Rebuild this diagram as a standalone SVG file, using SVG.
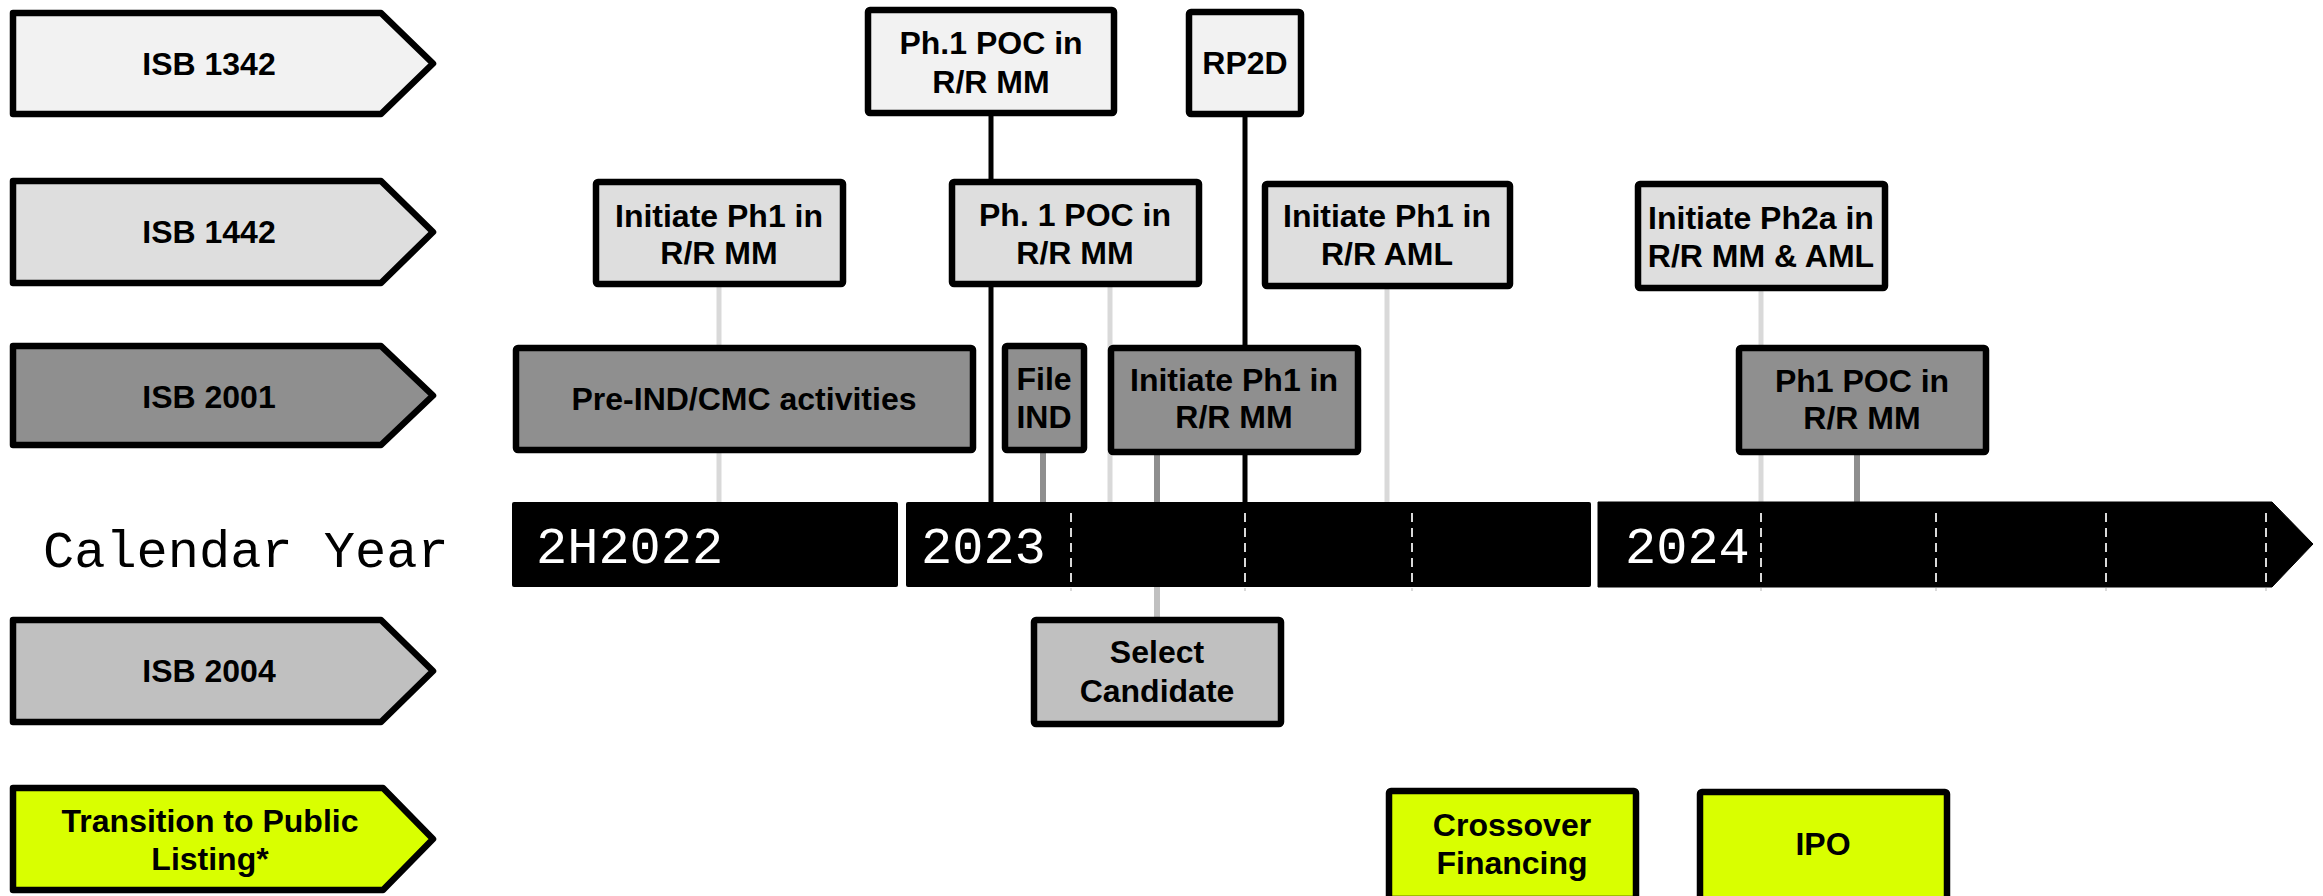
<svg xmlns="http://www.w3.org/2000/svg" width="2323" height="896" viewBox="0 0 2323 896">
  <style>
    .lbl { font-family: "Liberation Sans", Arial, sans-serif; font-weight: bold; font-size: 32px; fill: #000; text-anchor: middle; }
    .mono { font-family: "Liberation Mono", "Courier New", monospace; font-size: 52px; }
    .box { stroke: #000; stroke-width: 6.5; stroke-linejoin: round; }
    .r1 { fill: #f2f2f2; }
    .r2 { fill: #dedede; }
    .r3 { fill: #8f8f8f; }
    .r4 { fill: #c0c0c0; }
    .ry { fill: #d9ff00; }
    .c-black { stroke: #000; stroke-width: 5; }
    .c-light { stroke: #d9d9d9; stroke-width: 5; }
    .c-mid { stroke: #8f8f8f; stroke-width: 6; }
    .c-low { stroke: #c0c0c0; stroke-width: 6; }
    .tick { stroke: #d9d9d9; stroke-width: 2; stroke-dasharray: 9 6; }
  </style>
  <rect width="2323" height="896" fill="#ffffff"/>

  <!-- connectors: drawn first so boxes and bar sit on top -->
  <g id="connectors" fill="none">
    <line class="c-black" x1="991" y1="113" x2="991" y2="503"/>
    <line class="c-black" x1="1245" y1="114" x2="1245" y2="503"/>
    <line class="c-light" x1="719" y1="284" x2="719" y2="503"/>
    <line class="c-light" x1="1110" y1="284" x2="1110" y2="503"/>
    <line class="c-light" x1="1387" y1="286" x2="1387" y2="503"/>
    <line class="c-light" x1="1761" y1="288" x2="1761" y2="503"/>
    <line class="c-mid" x1="1043" y1="450" x2="1043" y2="503"/>
    <line class="c-mid" x1="1157" y1="452" x2="1157" y2="503"/>
    <line class="c-mid" x1="1857" y1="452" x2="1857" y2="503"/>
    <line class="c-low" x1="1157" y1="586" x2="1157" y2="620"/>
  </g>

  <!-- row headers -->
  <g id="hdr-isb1342">
    <path class="box r1" d="M13,13 H381 L433,63.5 L381,114 H13 Z"/>
    <text class="lbl" x="209" y="75">ISB 1342</text>
  </g>
  <g id="hdr-isb1442">
    <path class="box r2" d="M13,181 H381 L433,232 L381,283 H13 Z"/>
    <text class="lbl" x="209" y="243">ISB 1442</text>
  </g>
  <g id="hdr-isb2001">
    <path class="box r3" d="M13,346 H381 L433,395.5 L381,445 H13 Z"/>
    <text class="lbl" x="209" y="408">ISB 2001</text>
  </g>
  <g id="hdr-isb2004">
    <path class="box r4" d="M13,620 H381 L433,671 L381,722 H13 Z"/>
    <text class="lbl" x="209" y="682">ISB 2004</text>
  </g>
  <g id="hdr-listing">
    <path class="box ry" d="M13,788 H383 L433,839 L383,890 H13 Z"/>
    <text class="lbl" x="210" y="832">Transition to Public</text>
    <text class="lbl" x="210" y="870">Listing*</text>
  </g>

  <!-- calendar axis -->
  <g id="timeline">
    <text class="mono" x="43" y="567" fill="#000">Calendar Year</text>
    <rect x="512" y="502" width="386" height="85" rx="2" fill="#000"/>
    <rect x="906" y="502" width="685" height="85" rx="2" fill="#000"/>
    <path d="M1598,502 H2272 L2313,544 L2272,587 H1598 Z" fill="#000" stroke="#000" stroke-width="1" stroke-linejoin="round"/>
    <text class="mono" x="536" y="563" fill="#fff">2H2022</text>
    <text class="mono" x="921" y="563" fill="#fff">2023</text>
    <text class="mono" x="1625" y="563" fill="#fff">2024</text>
    <line class="tick" x1="1071" y1="513" x2="1071" y2="591"/>
    <line class="tick" x1="1245" y1="513" x2="1245" y2="591"/>
    <line class="tick" x1="1412" y1="513" x2="1412" y2="591"/>
    <line class="tick" x1="1761" y1="513" x2="1761" y2="591"/>
    <line class="tick" x1="1936" y1="513" x2="1936" y2="591"/>
    <line class="tick" x1="2106" y1="513" x2="2106" y2="591"/>
    <line class="tick" x1="2266" y1="513" x2="2266" y2="591"/>
  </g>

  <!-- ISB 1342 milestones -->
  <g id="n-ph1poc-top">
    <rect class="box r1" x="868" y="10" width="246" height="103" rx="2"/>
    <text class="lbl" x="991" y="54">Ph.1 POC in</text>
    <text class="lbl" x="991" y="93">R/R MM</text>
  </g>
  <g id="n-rp2d">
    <rect class="box r1" x="1189" y="12" width="112" height="102" rx="2"/>
    <text class="lbl" x="1245" y="74">RP2D</text>
  </g>

  <!-- ISB 1442 milestones -->
  <g id="n-1442-init">
    <rect class="box r2" x="596" y="182" width="247" height="102" rx="2"/>
    <text class="lbl" x="719" y="227">Initiate Ph1 in</text>
    <text class="lbl" x="719" y="264">R/R MM</text>
  </g>
  <g id="n-1442-poc">
    <rect class="box r2" x="952" y="182" width="247" height="102" rx="2"/>
    <text class="lbl" x="1075" y="226">Ph. 1 POC in</text>
    <text class="lbl" x="1075" y="264">R/R MM</text>
  </g>
  <g id="n-1442-aml">
    <rect class="box r2" x="1265" y="184" width="245" height="102" rx="2"/>
    <text class="lbl" x="1387" y="227">Initiate Ph1 in</text>
    <text class="lbl" x="1387" y="265">R/R AML</text>
  </g>
  <g id="n-1442-ph2a">
    <rect class="box r2" x="1638" y="184" width="247" height="104" rx="2"/>
    <text class="lbl" x="1761" y="229">Initiate Ph2a in</text>
    <text class="lbl" x="1761" y="267">R/R MM &amp; AML</text>
  </g>

  <!-- ISB 2001 milestones -->
  <g id="n-2001-preind">
    <rect class="box r3" x="516" y="348" width="457" height="102" rx="2"/>
    <text class="lbl" x="744" y="410">Pre-IND/CMC activities</text>
  </g>
  <g id="n-2001-ind">
    <rect class="box r3" x="1005" y="346" width="79" height="104" rx="2"/>
    <text class="lbl" x="1044" y="390">File</text>
    <text class="lbl" x="1044" y="428">IND</text>
  </g>
  <g id="n-2001-init">
    <rect class="box r3" x="1111" y="348" width="247" height="104" rx="2"/>
    <text class="lbl" x="1234" y="391">Initiate Ph1 in</text>
    <text class="lbl" x="1234" y="428">R/R MM</text>
  </g>
  <g id="n-2001-poc">
    <rect class="box r3" x="1739" y="348" width="247" height="104" rx="2"/>
    <text class="lbl" x="1862" y="392">Ph1 POC in</text>
    <text class="lbl" x="1862" y="429">R/R MM</text>
  </g>

  <!-- ISB 2004 milestone -->
  <g id="n-2004-select">
    <rect class="box r4" x="1034" y="620" width="247" height="104" rx="2"/>
    <text class="lbl" x="1157" y="663">Select</text>
    <text class="lbl" x="1157" y="702">Candidate</text>
  </g>

  <!-- listing milestones -->
  <g id="n-crossover">
    <rect class="box ry" x="1389" y="791" width="247" height="108" rx="2"/>
    <text class="lbl" x="1512" y="836">Crossover</text>
    <text class="lbl" x="1512" y="874">Financing</text>
  </g>
  <g id="n-ipo">
    <rect class="box ry" x="1700" y="792" width="247" height="108" rx="2"/>
    <text class="lbl" x="1823" y="855">IPO</text>
  </g>
</svg>
